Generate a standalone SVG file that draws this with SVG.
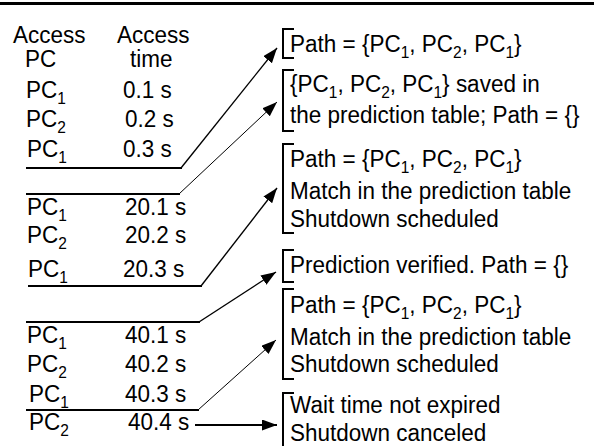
<svg xmlns="http://www.w3.org/2000/svg" width="594" height="446" viewBox="0 0 594 446">
<style>
text{font-family:"Liberation Sans",Arial,sans-serif;font-size:22.5px;fill:#000}
.sub{font-size:15.5px}
.rule{stroke:#000;stroke-width:2.2;fill:none}
.diag{stroke:#000;stroke-width:1.4;fill:none}
.thin{stroke:#000;stroke-width:1;fill:none}
.br{stroke:#000;stroke-width:2;fill:none}
</style>
<defs>
<marker id="ah" markerUnits="userSpaceOnUse" markerWidth="16" markerHeight="12" refX="15" refY="5.5" orient="auto">
<path d="M0,0 L15,5.5 L0,11 z" fill="#000"/>
</marker>
</defs>
<rect width="594" height="446" fill="#fff"/>
<line x1="0" y1="3.5" x2="594" y2="3.5" stroke="#000" stroke-width="3"/>

<g id="header">
<text transform="matrix(1,0,0,1.1,13,43)">Access</text>
<text transform="matrix(1,0,0,1.1,25,67)">PC</text>
<text transform="matrix(1,0,0,1.1,117,43)">Access</text>
<text transform="matrix(1,0,0,1.1,130,67)">time</text>
</g>

<g id="rows">
<text transform="matrix(1,0,0,1.1,26,98)">PC<tspan class="sub" dy="5">1</tspan></text>
<text transform="matrix(1,0,0,1.1,123,98)">0.1 s</text>
<text transform="matrix(1,0,0,1.1,26,127)">PC<tspan class="sub" dy="5">2</tspan></text>
<text transform="matrix(1,0,0,1.1,125,127)">0.2 s</text>
<text transform="matrix(1,0,0,1.1,27,157)">PC<tspan class="sub" dy="5">1</tspan></text>
<text transform="matrix(1,0,0,1.1,123,157)">0.3 s</text>

<text transform="matrix(1,0,0,1.1,27,215)">PC<tspan class="sub" dy="5">1</tspan></text>
<text transform="matrix(1,0,0,1.1,125,215)">20.1 s</text>
<text transform="matrix(1,0,0,1.1,27,243)">PC<tspan class="sub" dy="5">2</tspan></text>
<text transform="matrix(1,0,0,1.1,125,243)">20.2 s</text>
<text transform="matrix(1,0,0,1.1,28,277)">PC<tspan class="sub" dy="5">1</tspan></text>
<text transform="matrix(1,0,0,1.1,123,277)">20.3 s</text>

<text transform="matrix(1,0,0,1.1,27,343)">PC<tspan class="sub" dy="5">1</tspan></text>
<text transform="matrix(1,0,0,1.1,125,343)">40.1 s</text>
<text transform="matrix(1,0,0,1.1,27,372)">PC<tspan class="sub" dy="5">2</tspan></text>
<text transform="matrix(1,0,0,1.1,125,372)">40.2 s</text>
<text transform="matrix(1,0,0,1.1,29,402)">PC<tspan class="sub" dy="5">1</tspan></text>
<text transform="matrix(1,0,0,1.1,125,402)">40.3 s</text>
<text transform="matrix(1,0,0,1.1,29,430)">PC<tspan class="sub" dy="5">2</tspan></text>
<text transform="matrix(1,0,0,1.1,128,430)">40.4 s</text>
</g>

<g id="connectors">
<line class="rule" x1="26" y1="168" x2="182" y2="168"/>
<line class="diag" x1="181" y1="168" x2="277" y2="48" marker-end="url(#ah)"/>
<line class="rule" x1="26" y1="194" x2="180" y2="194"/>
<line class="thin" x1="179" y1="194" x2="277" y2="102" marker-end="url(#ah)"/>
<line class="rule" x1="28" y1="286" x2="202" y2="286"/>
<line class="diag" x1="201" y1="286" x2="277" y2="188" marker-end="url(#ah)"/>
<line class="rule" x1="26" y1="322" x2="200" y2="322"/>
<line class="diag" x1="199" y1="322" x2="276" y2="272" marker-end="url(#ah)"/>
<line class="rule" x1="26" y1="410" x2="199" y2="410"/>
<line class="thin" x1="198" y1="410" x2="276" y2="340" marker-end="url(#ah)"/>
<line class="rule" x1="195" y1="425" x2="277" y2="425" stroke-width="2" marker-end="url(#ah)"/>
</g>

<g id="n1">
<path class="br" d="M294,29 H283 V58 H294"/>
<text transform="matrix(1,0,0,1.1,290,52)">Path = {PC<tspan class="sub" dy="5">1</tspan><tspan dy="-5">, PC</tspan><tspan class="sub" dy="5">2</tspan><tspan dy="-5">, PC</tspan><tspan class="sub" dy="5">1</tspan><tspan dy="-5">}</tspan></text>
</g>
<g id="n2">
<path class="br" d="M294,70 H283 V131 H294"/>
<text transform="matrix(1,0,0,1.1,290,92)">{PC<tspan class="sub" dy="5">1</tspan><tspan dy="-5">, PC</tspan><tspan class="sub" dy="5">2</tspan><tspan dy="-5">, PC</tspan><tspan class="sub" dy="5">1</tspan><tspan dy="-5">} saved in</tspan></text>
<text transform="matrix(1,0,0,1.1,290,123)">the prediction table; Path = {}</text>
</g>
<g id="n3">
<path class="br" d="M294,144 H283 V233 H294"/>
<text transform="matrix(1,0,0,1.1,290,167)">Path = {PC<tspan class="sub" dy="5">1</tspan><tspan dy="-5">, PC</tspan><tspan class="sub" dy="5">2</tspan><tspan dy="-5">, PC</tspan><tspan class="sub" dy="5">1</tspan><tspan dy="-5">}</tspan></text>
<text transform="matrix(1,0,0,1.1,290,199)">Match in the prediction table</text>
<text transform="matrix(1,0,0,1.1,290,227)">Shutdown scheduled</text>
</g>
<g id="n4">
<path class="br" d="M294,250 H283 V282 H294"/>
<text transform="matrix(1,0,0,1.1,290,273)">Prediction verified. Path = {}</text>
</g>
<g id="n5">
<path class="br" d="M294,289 H283 V379 H294"/>
<text transform="matrix(1,0,0,1.1,290,313)">Path = {PC<tspan class="sub" dy="5">1</tspan><tspan dy="-5">, PC</tspan><tspan class="sub" dy="5">2</tspan><tspan dy="-5">, PC</tspan><tspan class="sub" dy="5">1</tspan><tspan dy="-5">}</tspan></text>
<text transform="matrix(1,0,0,1.1,290,345)">Match in the prediction table</text>
<text transform="matrix(1,0,0,1.1,290,372)">Shutdown scheduled</text>
</g>
<g id="n6">
<path class="br" d="M294,393 H283 V450"/>
<text transform="matrix(1,0,0,1.1,290,413)">Wait time not expired</text>
<text transform="matrix(1,0,0,1.1,290,441)">Shutdown canceled</text>
</g>
</svg>
